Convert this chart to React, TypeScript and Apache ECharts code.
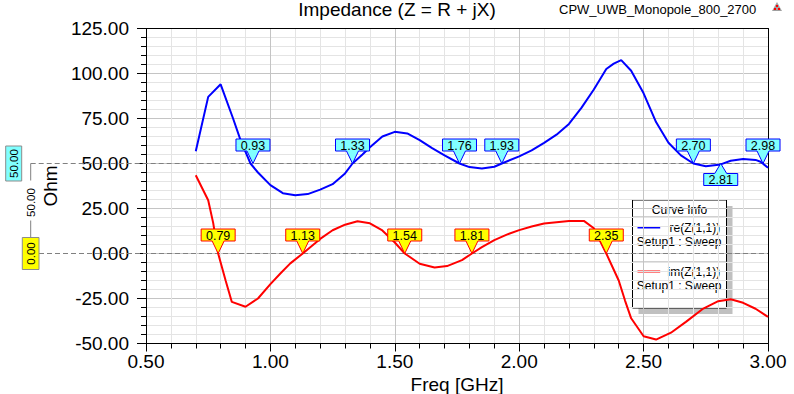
import React, { useEffect, useRef } from 'react';
import * as echarts from 'echarts';

const FONT = '"Liberation Sans", Arial, Helvetica, sans-serif';

const chartTitle = 'Impedance (Z = R + jX)';
const projectName = 'CPW_UWB_Monopole_800_2700';
const xAxisName = 'Freq [GHz]';
const yAxisName = 'Ohm';
const seriesNames = ['re(Z(1,1))', 'im(Z(1,1))'];
const seriesColors = ['#0000ff', '#ff0000'];
const setupName = 'Setup1 : Sweep';
const legendTitle = 'Curve Info';

const X_MIN = 0.5;
const X_MAX = 3.0;
const X_STEP = 0.5;
const Y_MIN = -50;
const Y_MAX = 125;
const Y_STEP = 25;

// re(Z(1,1)) samples
const reFreq = [0.70, 0.75, 0.80, 0.85, 0.88, 0.92, 0.95, 1.00, 1.05, 1.10, 1.15, 1.20, 1.25, 1.30, 1.33, 1.37, 1.40, 1.45, 1.50, 1.55, 1.60, 1.65, 1.70, 1.76, 1.80, 1.85, 1.90, 1.93, 2.00, 2.05, 2.10, 2.15, 2.20, 2.25, 2.30, 2.35, 2.38, 2.41, 2.45, 2.50, 2.55, 2.60, 2.65, 2.70, 2.75, 2.81, 2.85, 2.90, 2.95, 2.97, 3.00];
const reOhm = [56.8, 87.0, 94.0, 75.0, 63.0, 50.0, 45.0, 38.0, 33.5, 32.4, 33.0, 35.5, 38.5, 44.5, 50.0, 55.0, 59.0, 65.0, 67.6, 66.7, 63.0, 58.5, 54.5, 50.0, 48.0, 47.2, 48.2, 50.0, 54.0, 57.3, 61.5, 66.0, 72.0, 80.9, 91.1, 102.5, 105.5, 107.4, 101.5, 89.0, 73.0, 61.5, 54.5, 50.0, 48.5, 49.5, 51.5, 52.5, 52.0, 51.0, 47.6];

// im(Z(1,1)) samples
const imFreq = [0.70, 0.75, 0.77, 0.79, 0.82, 0.845, 0.90, 0.95, 1.00, 1.04, 1.08, 1.13, 1.20, 1.25, 1.30, 1.35, 1.40, 1.45, 1.50, 1.54, 1.60, 1.66, 1.71, 1.77, 1.81, 1.85, 1.90, 1.95, 2.00, 2.05, 2.10, 2.15, 2.20, 2.26, 2.30, 2.35, 2.40, 2.425, 2.45, 2.50, 2.55, 2.61, 2.67, 2.74, 2.80, 2.85, 2.90, 2.95, 3.00];
const imOhm = [43.5, 29.6, 17.0, 0.0, -15.0, -26.9, -29.6, -25.0, -17.0, -11.1, -5.5, 0.0, 8.1, 12.9, 16.0, 17.9, 16.8, 12.8, 6.1, 0.0, -5.7, -7.8, -7.0, -3.7, 0.0, 3.5, 7.4, 10.5, 13.0, 15.0, 16.7, 17.4, 18.0, 18.1, 14.0, 0.0, -15.0, -26.0, -36.0, -46.0, -47.8, -44.0, -38.0, -30.6, -26.5, -25.4, -27.4, -30.7, -35.2];

// markers (frequency where the curve crosses its reference level)
const reMarkers = [0.93, 1.33, 1.76, 1.93, 2.70, 2.81, 2.98];
const reMarkerBelow = [false, false, false, false, false, true, false];
const reMarkerLevel = 50;
const imMarkers = [0.79, 1.13, 1.54, 1.81, 2.35];
const imMarkerBelow = [false, false, false, false, false];
const imMarkerLevel = 0;

// reference (delta) lines
const refLevels = [50, 0];
const refLineStartX = [30.7, 39];

const fmt2 = (v: number) => v.toFixed(2);

function makeMarkerRender(labels: number[], below: boolean[], fill: string, stroke: string) {
  return (params: any, api: any) => {
    const p = api.coord([api.value(0), api.value(1)]);
    const cx = p[0];
    const ty = p[1];
    const hw = 17;
    const bh = 12;
    const ph = 6;
    const isBelow = below[params.dataIndex];
    let pts: number[][];
    let textY: number;
    if (!isBelow) {
      const yb = ty - 12.5;
      const yt = yb - bh;
      pts = [[cx - hw, yt], [cx + hw, yt], [cx + hw, yb], [cx + ph, yb], [cx, ty], [cx - ph, yb], [cx - hw, yb]];
      textY = (yt + yb) / 2 + 0.5;
    } else {
      const yt = ty + 10;
      const yb = yt + bh;
      pts = [[cx - hw, yb], [cx + hw, yb], [cx + hw, yt], [cx + ph, yt], [cx, ty], [cx - ph, yt], [cx - hw, yt]];
      textY = (yt + yb) / 2 + 0.5;
    }
    return {
      type: 'group',
      children: [
        { type: 'polygon', shape: { points: pts }, style: { fill, stroke, lineWidth: 1 } },
        {
          type: 'text',
          x: cx,
          y: textY,
          style: { text: fmt2(labels[params.dataIndex]), align: 'center', verticalAlign: 'middle', font: `12.5px ${FONT}`, fill: '#000' },
        },
      ],
    };
  };
}

export default function App() {
  const ref = useRef<HTMLDivElement>(null);

  useEffect(() => {
    document.body.style.margin = '0';
    if (!ref.current) return;
    const chart = echarts.init(ref.current, null, { renderer: 'svg' });

    const legendRows: any[] = [];
    seriesNames.forEach((name, i) => {
      const base = 27.5 + i * 44;
      legendRows.push({ type: 'line', shape: { x1: 5, y1: base, x2: 27.7, y2: base }, style: { stroke: seriesColors[i], lineWidth: 2 } });
      legendRows.push({ type: 'text', x: 87.7, y: base, style: { text: name, align: 'right', verticalAlign: 'middle', font: `12px ${FONT}`, fill: '#000' } });
      legendRows.push({ type: 'text', x: 4.3, y: base + 14, style: { text: setupName, align: 'left', verticalAlign: 'middle', font: `12px ${FONT}`, fill: '#000' } });
    });

    const option: any = {
      animation: false,
      backgroundColor: '#fff',
      textStyle: { fontFamily: FONT },
      title: [
        { text: chartTitle, left: 'center', top: 0, padding: 0, textStyle: { fontSize: 19, fontWeight: 'normal', color: '#000', fontFamily: FONT } },
        { text: projectName, left: 559, top: 3, padding: 0, textStyle: { fontSize: 13, fontWeight: 'normal', color: '#000', fontFamily: FONT } },
      ],
      grid: { left: 146, right: 26, top: 28.5, bottom: 50.5, containLabel: false, outerBoundsMode: 'none' },
      xAxis: [
        {
          type: 'value', min: X_MIN, max: X_MAX, interval: X_STEP,
          name: xAxisName, nameLocation: 'middle', nameGap: 38.5,
          nameTextStyle: { fontSize: 19, color: '#000', fontFamily: FONT, verticalAlign: 'middle' },
          axisLine: { onZero: false, lineStyle: { color: '#000', width: 1 } },
          axisTick: { show: true, length: 8, lineStyle: { color: '#000' } },
          minorTick: { show: true, splitNumber: 5, length: 5, lineStyle: { color: '#000' } },
          axisLabel: { formatter: fmt2, fontSize: 19, color: '#000', margin: 8, fontFamily: FONT },
          splitLine: { show: true, lineStyle: { color: '#c4c4c4', width: 1 } },
          minorSplitLine: { show: true, lineStyle: { color: '#e4e4e4', width: 1 } },
        },
        {
          type: 'value', min: X_MIN, max: X_MAX, position: 'top',
          axisLine: { onZero: false, lineStyle: { color: '#000', width: 1 } },
          axisTick: { show: false }, axisLabel: { show: false }, splitLine: { show: false },
        },
      ],
      yAxis: [
        {
          type: 'value', min: Y_MIN, max: Y_MAX, interval: Y_STEP,
          name: yAxisName, nameLocation: 'middle', nameGap: 85, nameRotate: 90,
          nameTextStyle: { fontSize: 19, color: '#000', fontFamily: FONT, verticalAlign: 'middle' },
          axisLine: { onZero: false, lineStyle: { color: '#000', width: 1 } },
          axisTick: { show: true, length: 9, lineStyle: { color: '#000' } },
          minorTick: { show: true, splitNumber: 5, length: 5, lineStyle: { color: '#000' } },
          axisLabel: { formatter: fmt2, fontSize: 19, color: '#000', margin: 17, fontFamily: FONT },
          splitLine: { show: true, lineStyle: { color: '#c4c4c4', width: 1 } },
          minorSplitLine: { show: true, lineStyle: { color: '#e4e4e4', width: 1 } },
        },
        {
          type: 'value', min: Y_MIN, max: Y_MAX, position: 'right',
          axisLine: { onZero: false, lineStyle: { color: '#000', width: 1 } },
          axisTick: { show: false }, axisLabel: { show: false }, splitLine: { show: false },
        },
      ],
      series: [
        {
          type: 'custom', name: 'refLines', silent: true, clip: false, z: 3,
          xAxisIndex: 0, yAxisIndex: 0,
          data: refLevels.map((l) => [X_MIN, l]),
          renderItem: (params: any, api: any) => {
            const y = api.coord([X_MIN, api.value(1)])[1];
            const xEnd = api.coord([X_MAX, api.value(1)])[0];
            return {
              type: 'line',
              shape: { x1: refLineStartX[params.dataIndex], y1: y, x2: xEnd, y2: y },
              style: { stroke: '#808080', lineWidth: 1, lineDash: [5, 3] },
            };
          },
        },
        {
          type: 'custom', name: 'delta', silent: true, clip: false, z: 4,
          xAxisIndex: 0, yAxisIndex: 0,
          data: [[X_MIN, refLevels[0]]],
          renderItem: (params: any, api: any) => {
            const yTop = api.coord([X_MIN, refLevels[0]])[1];
            const yBot = api.coord([X_MIN, refLevels[1]])[1];
            const boxTop = yBot - 16;
            const mid = (yTop + boxTop) / 2;
            const vx = 30.7;
            const rot = Math.PI / 2;
            return {
              type: 'group',
              children: [
                { type: 'rect', shape: { x: 5.7, y: yTop - 17.5, width: 16, height: 35 }, style: { fill: '#80ffff', stroke: '#8c8c8c', lineWidth: 1 } },
                { type: 'text', x: 13.9, y: yTop, rotation: rot, style: { text: fmt2(refLevels[0]), align: 'center', verticalAlign: 'middle', font: `11.5px ${FONT}`, fill: '#000' } },
                { type: 'rect', shape: { x: 22.3, y: boxTop, width: 16.7, height: 32 }, style: { fill: '#ffff00', stroke: '#8c8c8c', lineWidth: 1 } },
                { type: 'text', x: 30.8, y: yBot, rotation: rot, style: { text: fmt2(refLevels[1]), align: 'center', verticalAlign: 'middle', font: `11.5px ${FONT}`, fill: '#000' } },
                { type: 'line', shape: { x1: vx, y1: yTop, x2: vx, y2: mid - 20 }, style: { stroke: '#808080', lineWidth: 1 } },
                { type: 'line', shape: { x1: vx, y1: mid + 20, x2: vx, y2: boxTop }, style: { stroke: '#808080', lineWidth: 1 } },
                { type: 'text', x: vx, y: mid + 2, rotation: rot, style: { text: fmt2(refLevels[0] - refLevels[1]), align: 'center', verticalAlign: 'middle', font: `11.5px ${FONT}`, fill: '#000' } },
              ],
            };
          },
        },
        {
          type: 'line', name: seriesNames[0], showSymbol: false, symbol: 'none', z: 5,
          lineStyle: { color: seriesColors[0], width: 2 }, itemStyle: { color: seriesColors[0] },
          data: reFreq.map((f, i) => [f, reOhm[i]]),
        },
        {
          type: 'line', name: seriesNames[1], showSymbol: false, symbol: 'none', z: 5,
          lineStyle: { color: seriesColors[1], width: 2 }, itemStyle: { color: seriesColors[1] },
          data: imFreq.map((f, i) => [f, imOhm[i]]),
        },
        {
          type: 'custom', name: 'reMarkers', silent: true, clip: false, z: 8,
          data: reMarkers.map((f) => [f, reMarkerLevel]),
          renderItem: makeMarkerRender(reMarkers, reMarkerBelow, '#80ffff', '#0000ff'),
        },
        {
          type: 'custom', name: 'imMarkers', silent: true, clip: false, z: 8,
          data: imMarkers.map((f) => [f, imMarkerLevel]),
          renderItem: makeMarkerRender(imMarkers, imMarkerBelow, '#ffff00', '#ff0000'),
        },
      ],
      graphic: [
        {
          type: 'group', left: 630, top: 199.5, z: 100,
          children: [
            { type: 'rect', shape: { x: 6, y: 6, width: 94, height: 108 }, style: { fill: '#c0c0c0' } },
            { type: 'rect', shape: { x: 0, y: 0, width: 94, height: 108 }, style: { fill: '#fff', stroke: '#000', lineWidth: 1 } },
            { type: 'text', x: 47, y: 10, style: { text: legendTitle, align: 'center', verticalAlign: 'middle', font: `12px ${FONT}`, fill: '#000' } },
            { type: 'line', shape: { x1: 0, y1: 17, x2: 94, y2: 17 }, style: { stroke: '#a0a0a0', lineWidth: 1 } },
            { type: 'line', shape: { x1: 0, y1: 62, x2: 94, y2: 62 }, style: { stroke: '#a0a0a0', lineWidth: 1 } },
            ...legendRows,
          ],
        },
        {
          type: 'group', left: 772, top: 2, z: 100,
          children: [
            { type: 'polygon', shape: { points: [[5, 0], [10, 9], [0, 9]] }, style: { fill: '#a0a0a0' } },
            { type: 'rect', shape: { x: 4, y: 3, width: 2, height: 2 }, style: { fill: '#ff0000' } },
            { type: 'rect', shape: { x: 2, y: 6, width: 2, height: 2 }, style: { fill: '#ff0000' } },
            { type: 'rect', shape: { x: 6, y: 6, width: 2, height: 2 }, style: { fill: '#ff0000' } },
          ],
        },
      ],
    };

    chart.setOption(option);
    return () => chart.dispose();
  }, []);

  return <div ref={ref} style={{ position: 'fixed', left: 0, top: 0, width: 794, height: 394 }} />;
}
